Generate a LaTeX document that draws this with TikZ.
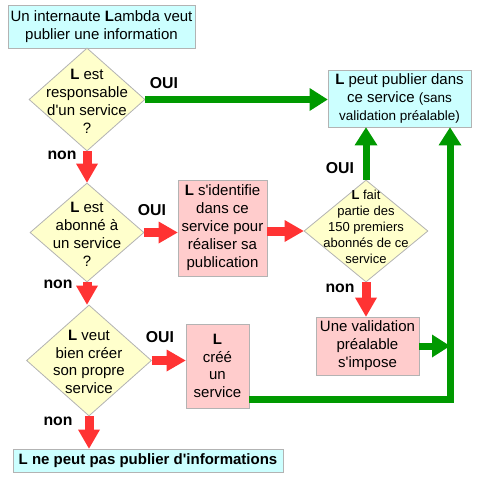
\documentclass[tikz,border=0pt]{standalone}
\usepackage{fontspec}
\newfontfamily\af{Liberation Sans}
\usetikzlibrary{arrows.meta,shapes.geometric}
\definecolor{cyanfill}{HTML}{CCFFFF}
\definecolor{pinkfill}{HTML}{FFCCCC}
\definecolor{yelfill}{HTML}{FFFFCC}
\definecolor{bord}{HTML}{B3B3B3}
\definecolor{gr}{HTML}{009900}
\definecolor{rd}{HTML}{FF3333}
\begin{document}
\begin{tikzpicture}[x=1pt,y=-1pt,
  every node/.style={font=\af\fontsize{15}{18}\selectfont},
  box/.style={draw=bord,line width=0.8pt,inner sep=0pt,align=center},
  cyanbox/.style={box,fill=cyanfill},
  pinkbox/.style={box,fill=pinkfill},
  dia/.style={diamond,draw=bord,line width=0.8pt,fill=yelfill,inner sep=0pt},
  dtext/.style={align=center,inner sep=0pt},
  lab/.style={font=\af\bfseries\fontsize{15.8}{18}\selectfont,inner sep=0pt},
  redarr/.style={draw=rd,line width=9pt,-{Triangle[length=19pt,width=22pt,line width=0pt]}},
  grarr/.style={draw=gr,line width=7pt,line join=miter,-{Triangle[length=18pt,width=23pt,line width=0pt]}},
]
\useasboundingbox (0,0) rectangle (477,480);

% boxes
\node[cyanbox,minimum width=187pt,minimum height=43pt] (start) at (101.5,26.5)
  {Un internaute \textbf{L}ambda veut\\publier une information};
\node[cyanbox,minimum width=143pt,minimum height=57pt] (ok) at (399.5,98.5)
  {\textbf{L} peut publier dans\\ce service {\fontsize{13.5}{17}\selectfont(sans}\\{\fontsize{13.5}{17}\selectfont validation préalable)}};
\node[pinkbox,minimum width=89pt,minimum height=96pt] (id) at (222.5,228)
  {\textbf{L} s'identifie\\dans ce\\service pour\\réaliser sa\\publication};
\node[pinkbox,minimum width=103pt,minimum height=58pt] (val) at (367.5,346)
  {Une validation\\préalable\\s'impose};
\node[pinkbox,minimum width=63pt,minimum height=84pt,font=\af\fontsize{15}{17.5}\selectfont] (cree) at (217.5,366)
  {\textbf{L}\\créé\\un\\service};
\node[cyanbox,minimum width=270pt,minimum height=23pt,font=\af\bfseries\fontsize{15}{18}\selectfont] (no) at (148,460.5)
  {L ne peut pas publier d'informations};

% diamonds
\node[dia,minimum width=116pt,minimum height=103pt] (d1) at (87,99.5) {};
\node[dtext] (t1) at (87,101) {\textbf{L} est\\responsable\\d'un service\\?};
\node[dia,minimum width=114pt,minimum height=99pt] (d2) at (87,232.5) {};
\node[dtext] (t2) at (87,234) {\textbf{L} est\\abonné à\\un service\\?};
\node[dia,minimum width=125pt,minimum height=111pt] (d3) at (89,360.5) {};
\node[dtext,font=\af\fontsize{15}{17.5}\selectfont] (t3) at (89,362) {\textbf{L} veut\\bien créer\\son propre\\service};
\node[dia,minimum width=124pt,minimum height=102pt] (d4) at (366,231) {};
\node[dtext,font=\af\fontsize{13}{16}\selectfont] (t4) at (366,227) {\textbf{L} fait\\partie des\\150 premiers\\abonnés de ce\\service};

% labels
\node[lab] (l1) at (164,83) {OUI};
\node[lab] (l2) at (62,155) {non};
\node[lab] (l3) at (152,210) {OUI};
\node[lab] (l4) at (58,284) {non};
\node[lab] (l5) at (160,337) {OUI};
\node[lab] (l6) at (58,421) {non};
\node[lab] (l7) at (340,168) {OUI};
\node[lab] (l8) at (340,288) {non};

% red arrows
\draw[redarr] (d1.south) -- (d1.south |- d2.north);
\draw[redarr] (d2.south) -- (d2.south |- d3.north);
\draw[redarr] (d3.south) -- (d3.south |- no.north);
\draw[redarr] (d2.east) -- (d2.east -| id.west);
\draw[redarr] (id.east |- d4.west) -- (d4.west);
\draw[redarr] (d3.east) -- (d3.east -| cree.west);
\draw[redarr] (d4.south) -- (d4.south |- val.north);

% green arrows
\coordinate (c1) at (450,399);
\draw[grarr] (d1.east) -- (d1.east -| ok.west);
\draw[grarr] (d4.north) -- (d4.north |- ok.south);
\draw[grarr] (c1 -| cree.east) -- (c1) -- (c1 |- ok.south);
\draw[grarr] (val.east) -- (val.east -| c1);
\end{tikzpicture}
\end{document}
